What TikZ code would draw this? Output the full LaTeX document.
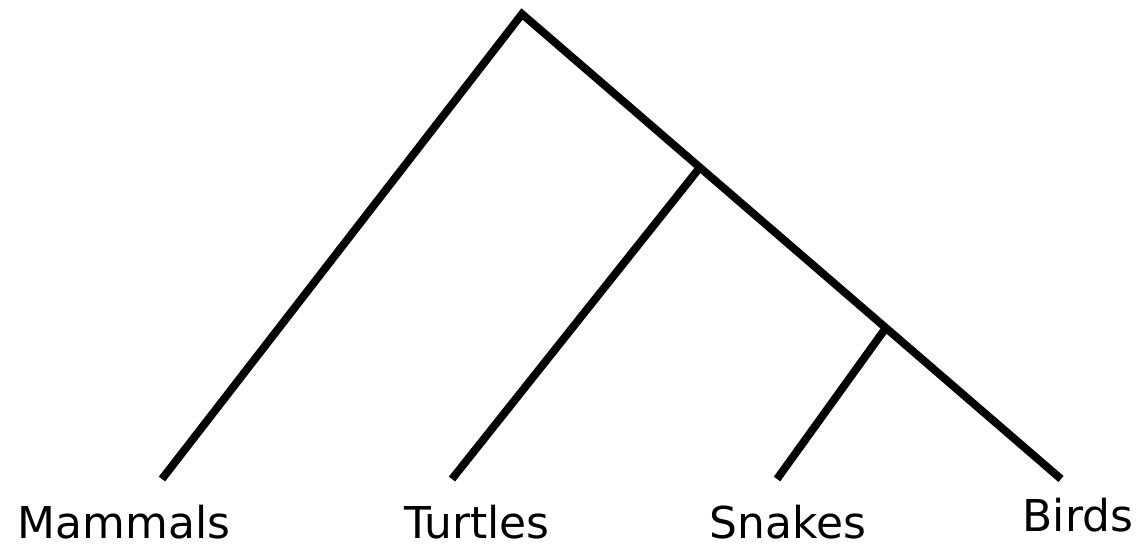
\documentclass[tikz,border=0pt]{standalone}
\usepackage{fontspec}
\setmainfont{DejaVu Sans}
\usetikzlibrary{calc}

\tikzset{
    branch/.style={line width=4.5pt, line join=miter},
    taxon/.style={anchor=base, inner sep=0pt, text depth=0pt, font=\fontsize{25}{30}\selectfont}
}

\begin{document}
\begin{tikzpicture}[x=0.02cm, y=-0.02cm]

\useasboundingbox (0,0) rectangle (1138,547);

% tips of the tree
\coordinate (root) at (522,14);
\coordinate (mammalsTip) at (162,479);
\coordinate (turtlesTip) at (452,479);
\coordinate (snakesTip) at (777,479);
\coordinate (birdsTip) at (1061,479);

% splits on the birds branch
\coordinate (splitA) at ($(root)!0.33!(birdsTip)$);
\coordinate (splitB) at ($(root)!0.675!(birdsTip)$);

\draw[branch] (mammalsTip) -- (root) -- (birdsTip);
\draw[branch] (splitA) -- (turtlesTip);
\draw[branch] (splitB) -- (snakesTip);

% names
\node[taxon] (mammals) at (124,538) {Mammals};
\node[taxon] (turtles) at (477,538) {Turtles};
\node[taxon] (snakes) at (788,538) {Snakes};
\node[taxon] (birds) at (1078,531) {Birds};

\end{tikzpicture}
\end{document}
